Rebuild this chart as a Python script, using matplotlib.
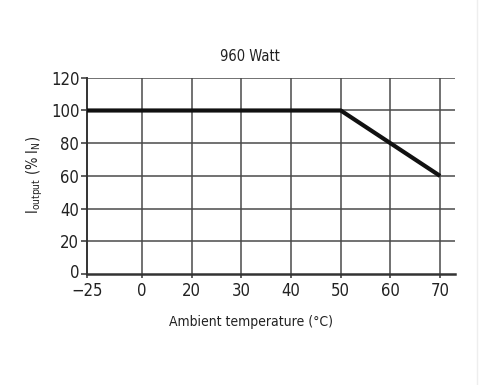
import numpy as np
import matplotlib
matplotlib.use("Agg")
import matplotlib.pyplot as plt
from matplotlib.lines import Line2D
from matplotlib.transforms import ScaledTranslation

plt.rcParams['font.family'] = ['DejaVu Sans']
plt.rcParams['font.stretch'] = 'condensed'

# Data
tick_values = [-25, 0, 20, 30, 40, 50, 60, 70]
tick_labels = ['\u221225', '0', '20', '30', '40', '50', '60', '70']
curve_temp = [-25, 50, 70]
curve_current = [100, 100, 60]
y_ticks = [0, 20, 40, 60, 80, 100, 120]

# Schematic (non-linear) x axis: ticks equally spaced, first gap a bit wider
tick_pos = np.array([0, 1.11, 2.11, 3.11, 4.11, 5.11, 6.11, 7.11])

def xmap(v):
    return np.interp(v, tick_values, tick_pos)

fig = plt.figure(figsize=(5, 3.85), dpi=100)
ax = fig.add_axes([0.174, 0.288, 0.736, 0.510])

grid_c = '#4a4a4a'
for p in tick_pos[1:]:
    ax.axvline(p, color=grid_c, lw=1.1, zorder=1)
for y in y_ticks[1:]:
    ax.axhline(y, color=grid_c, lw=1.1, zorder=1)

ax.plot(xmap(curve_temp), curve_current, color='#111111', lw=3.0,
        solid_capstyle='butt', zorder=3)

ax.set_xlim(tick_pos[0], tick_pos[-1] + 0.30)
ax.set_ylim(0, 120)
ax.set_xticks(tick_pos)
ax.set_xticklabels(tick_labels)
ax.set_yticks(y_ticks)

for s in ['top', 'right']:
    ax.spines[s].set_visible(False)
ax.spines['left'].set_color('#333333')
ax.spines['left'].set_linewidth(1.4)
ax.spines['bottom'].set_color('#333333')
ax.spines['bottom'].set_linewidth(1.8)

ax.tick_params(axis='both', colors='#333333', labelcolor='#222222',
               labelsize=12, width=1.1)
ax.tick_params(axis='y', length=4, pad=1.5)
ax.tick_params(axis='x', length=3, pad=2.5)

# nudge the "0" y label up slightly (as in the reference) to clear "-25"
zero_lbl = ax.yaxis.get_major_ticks()[0].label1
zero_lbl.set_transform(zero_lbl.get_transform() +
                       ScaledTranslation(0, 2.5 / 72, fig.dpi_scale_trans))

fig.text(0.5, 0.852, '960 Watt', ha='center', va='center', fontsize=10.5,
         color='#222222')
fig.text(0.502, 0.163, 'Ambient temperature (\u00b0C)', ha='center',
         va='center', fontsize=10, color='#222222')
fig.text(0.07, 0.545, r'I$_{\mathregular{output}}$ (% I$_{\mathregular{N}}$)',
         rotation=90, ha='center', va='center', fontsize=10.5, color='#222222')

fig.add_artist(Line2D([0.954, 0.954], [0, 1], transform=fig.transFigure,
                      color='#eeeeee', lw=1))

fig.savefig('out.png', dpi=100, facecolor='white')
